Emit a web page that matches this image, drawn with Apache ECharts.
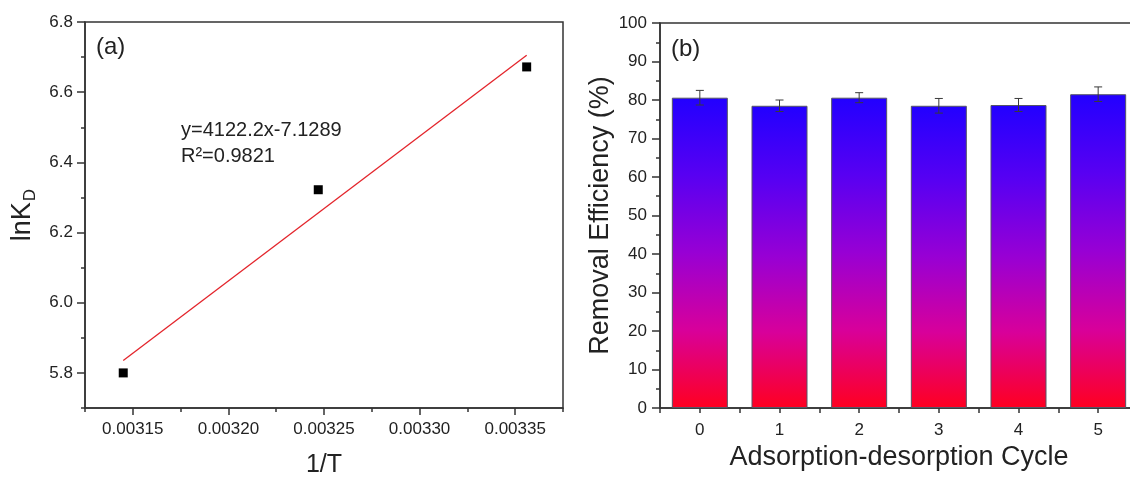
<!DOCTYPE html>
<html>
<head>
<meta charset="utf-8">
<title>Thermodynamics and reusability</title>
<script src="https://cdn.jsdelivr.net/npm/echarts@6/dist/echarts.min.js"></script>
<style>
  html, body { margin: 0; padding: 0; background: #ffffff; }
  #chart { width: 1130px; height: 479px; }
</style>
</head>
<body>
<div id="chart"></div>
<script>
// (a) van 't Hoff plot: lnKD against 1/T
const invT = [0.003145, 0.003247, 0.003356];
const lnKD = [5.800, 6.322, 6.672];
const fitSlope = 4122.2;
const fitIntercept = -7.1289;
const fitSpan = [0.003145, 0.003356];
const invTTicks = [0.00315, 0.00320, 0.00325, 0.00330, 0.00335];
const lnKDTicks = [5.8, 6.0, 6.2, 6.4, 6.6, 6.8];

// (b) removal efficiency over adsorption-desorption cycles
const cycles = [0, 1, 2, 3, 4, 5];
const efficiency = [80.6, 78.5, 80.6, 78.5, 78.7, 81.5];
const efficiencyErr = [1.9, 1.5, 1.3, 1.9, 1.7, 1.9];

const FONT = '"Liberation Sans", Arial, Helvetica, sans-serif';
const AXIS_COLOR = '#333333';
const TEXT_COLOR = '#222222';

const fitLine = fitSpan.map(x => [x, fitSlope * x + fitIntercept]);
const points = invT.map((x, i) => [x, lnKD[i]]);
const bars = cycles.map((c, i) => [c, efficiency[i]]);
const errs = cycles.map((c, i) => [c, efficiency[i], efficiencyErr[i]]);

const lineStyle = { color: AXIS_COLOR, width: 1.5 };
const labelStyle = { color: TEXT_COLOR, fontSize: 17, fontFamily: FONT };

const chart = echarts.init(document.getElementById('chart'), null, { renderer: 'canvas' });

const barGradient = new echarts.graphic.LinearGradient(0, 0, 0, 1, [
  { offset: 0.00, color: '#2200ff' },
  { offset: 0.25, color: '#5800f2' },
  { offset: 0.50, color: '#9800d4' },
  { offset: 0.75, color: '#d8009a' },
  { offset: 1.00, color: '#ff0020' }
]);

chart.setOption({
  animation: false,
  backgroundColor: '#ffffff',
  textStyle: { fontFamily: FONT },
  grid: [
    { left: 85, top: 22, right: 567, bottom: 71, outerBoundsMode: 'none', containLabel: false,
      show: true, borderColor: AXIS_COLOR, borderWidth: 1.5, backgroundColor: 'transparent' },
    { left: 660, top: 23, right: -8, bottom: 71, outerBoundsMode: 'none', containLabel: false,
      show: true, borderColor: AXIS_COLOR, borderWidth: 1.5, backgroundColor: 'transparent' }
  ],
  xAxis: [
    {
      gridIndex: 0, type: 'value', position: 'bottom', min: 0.003125, max: 0.003375, interval: 0.000025,
      axisLine: { show: true, onZero: false, lineStyle },
      axisTick: { show: true, length: 4, lineStyle },
      axisLabel: { show: false },
      splitLine: { show: false }
    },
    {
      gridIndex: 0, type: 'value', position: 'bottom', min: 0.003125, max: 0.003375,
      axisLine: { show: false, onZero: false },
      axisTick: { show: true, length: 7, lineStyle, customValues: invTTicks },
      axisLabel: Object.assign({ margin: 13, customValues: invTTicks, formatter: v => v.toFixed(5) }, labelStyle),
      splitLine: { show: false },
      name: '1/T', nameLocation: 'middle', nameGap: 45,
      nameTextStyle: { color: TEXT_COLOR, fontSize: 25, fontFamily: FONT }
    },
    {
      gridIndex: 1, type: 'value', position: 'bottom', min: -0.5, max: 5.5, interval: 0.5,
      axisLine: { show: true, onZero: false, lineStyle },
      axisTick: { show: true, length: 5, lineStyle },
      axisLabel: Object.assign({
        margin: 14,
        formatter: v => (Math.abs(v - Math.round(v)) < 1e-6 ? String(Math.round(v)) : '')
      }, labelStyle),
      splitLine: { show: false },
      name: 'Adsorption-desorption Cycle', nameLocation: 'middle', nameGap: 34,
      nameTextStyle: { color: TEXT_COLOR, fontSize: 27, fontFamily: FONT }
    }
  ],
  yAxis: [
    {
      gridIndex: 0, type: 'value', position: 'left', min: 5.7, max: 6.8, interval: 0.1,
      axisLine: { show: true, onZero: false, lineStyle },
      axisTick: { show: true, length: 4, lineStyle },
      axisLabel: { show: false },
      splitLine: { show: false }
    },
    {
      gridIndex: 0, type: 'value', position: 'left', min: 5.7, max: 6.8,
      axisLine: { show: false, onZero: false },
      axisTick: { show: true, length: 8, lineStyle, customValues: lnKDTicks },
      axisLabel: Object.assign({ margin: 12, customValues: lnKDTicks, formatter: v => v.toFixed(1) }, labelStyle),
      splitLine: { show: false },
      name: '{m|lnK}{d|D}', nameLocation: 'middle', nameGap: 44, nameRotate: 90,
      nameTextStyle: {
        color: TEXT_COLOR, fontFamily: FONT,
        rich: {
          m: { fontSize: 27, fontFamily: FONT, color: TEXT_COLOR, lineHeight: 36, verticalAlign: 'middle' },
          d: { fontSize: 17, fontFamily: FONT, color: TEXT_COLOR, lineHeight: 36, verticalAlign: 'bottom', padding: [0, 0, 2, 1] }
        }
      }
    },
    {
      gridIndex: 1, type: 'value', position: 'left', min: 0, max: 100, interval: 10,
      axisLine: { show: true, onZero: false, lineStyle },
      axisTick: { show: true, length: 8, lineStyle },
      minorTick: { show: true, splitNumber: 2, length: 4, lineStyle },
      axisLabel: Object.assign({ margin: 13 }, labelStyle),
      splitLine: { show: false },
      name: 'Removal Efficiency (%)', nameLocation: 'middle', nameGap: 46,
      nameTextStyle: { color: TEXT_COLOR, fontSize: 27, fontFamily: FONT }
    }
  ],
  series: [
    {
      name: 'linear fit', type: 'line', xAxisIndex: 0, yAxisIndex: 0,
      data: fitLine, showSymbol: false, silent: true,
      lineStyle: { color: '#e3242b', width: 1.3 }, z: 3
    },
    {
      name: 'lnKD', type: 'scatter', xAxisIndex: 0, yAxisIndex: 0,
      data: points, symbol: 'rect', symbolSize: 9,
      itemStyle: { color: '#000000', opacity: 1 }, z: 4
    },
    {
      name: 'efficiency', type: 'bar', xAxisIndex: 2, yAxisIndex: 2,
      data: bars, barWidth: 56,
      itemStyle: { color: barGradient, borderColor: '#555566', borderWidth: 1 }, z: 2
    },
    {
      name: 'error', type: 'custom', xAxisIndex: 2, yAxisIndex: 2,
      data: errs, z: 5, silent: true,
      renderItem: function (params, api) {
        const x = api.value(0), v = api.value(1), e = api.value(2);
        const top = api.coord([x, v + e]);
        const bot = api.coord([x, v - e]);
        const half = 4;
        const style = { stroke: '#3a3a3a', lineWidth: 1 };
        return {
          type: 'group',
          children: [
            { type: 'line', shape: { x1: top[0], y1: top[1], x2: bot[0], y2: bot[1] }, style },
            { type: 'line', shape: { x1: top[0] - half, y1: top[1], x2: top[0] + half, y2: top[1] }, style },
            { type: 'line', shape: { x1: bot[0] - half, y1: bot[1], x2: bot[0] + half, y2: bot[1] }, style }
          ]
        };
      }
    }
  ],
  graphic: [
    { type: 'text', left: 96, top: 35, style: { text: '(a)', font: '24px ' + FONT, fill: TEXT_COLOR } },
    { type: 'text', left: 671, top: 37, style: { text: '(b)', font: '24px ' + FONT, fill: TEXT_COLOR } },
    { type: 'text', left: 181, top: 120, style: { text: 'y=4122.2x-7.1289', font: '20px ' + FONT, fill: TEXT_COLOR } },
    { type: 'text', left: 181, top: 146, style: { text: 'R²=0.9821', font: '20px ' + FONT, fill: TEXT_COLOR } }
  ]
});
</script>
</body>
</html>
